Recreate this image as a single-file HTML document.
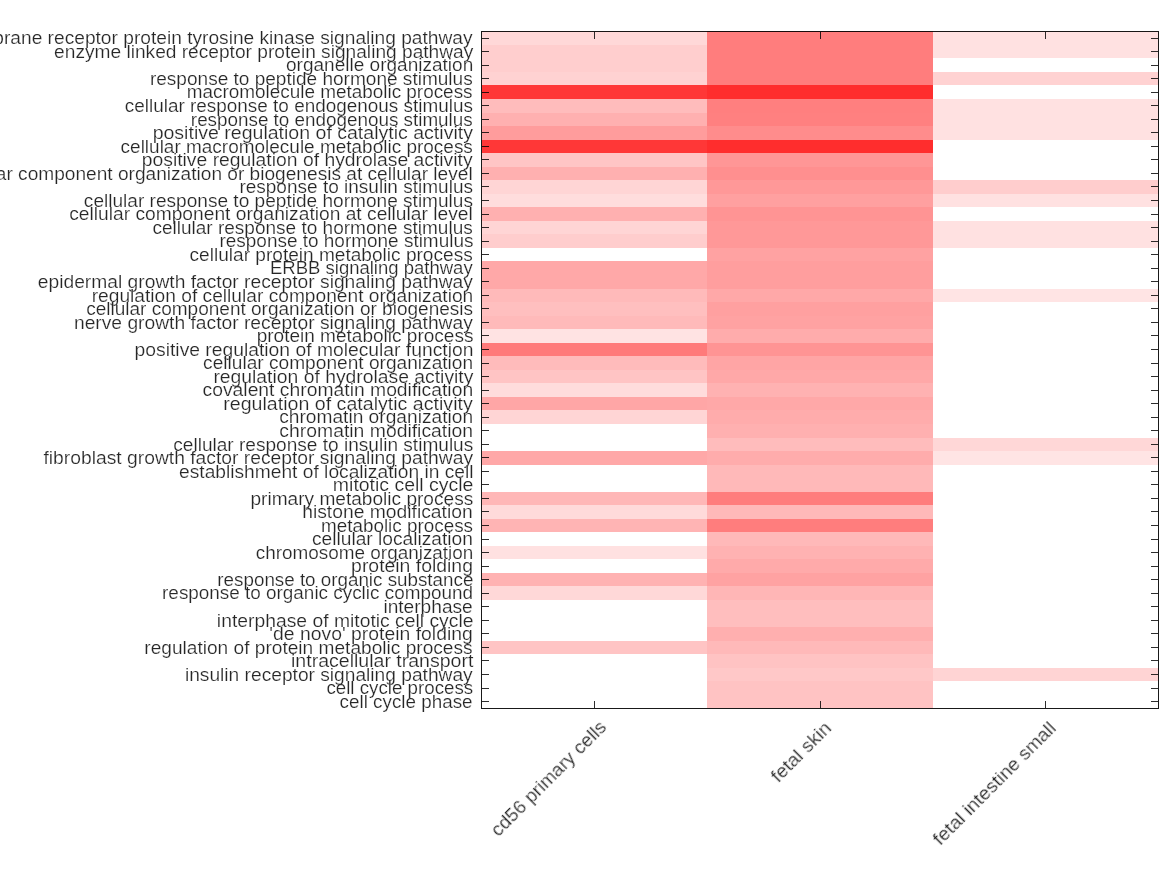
<!DOCTYPE html>
<html><head><meta charset="utf-8"><title>heatmap</title>
<style>
html,body{margin:0;padding:0;background:#fff;overflow:hidden;}
body{width:1167px;height:875px;position:relative;overflow:hidden;font-family:"Liberation Sans",sans-serif;color:#262626;}
.c{position:absolute;}
.yl{-webkit-text-stroke:0.2px #fff;will-change:transform;position:absolute;right:694px;white-space:nowrap;font-size:17.5px;line-height:20px;height:20px;transform-origin:100% 50%;}
.xl{-webkit-text-stroke:0.2px #fff;will-change:transform;position:absolute;white-space:nowrap;font-size:17.5px;line-height:20px;height:20px;transform-origin:100% 0;}
.t{position:absolute;background:rgba(0,0,0,.82);}
</style></head><body>

<div class="c" style="left:482px;top:31px;width:225px;height:14px;background:rgb(255,216,216)"></div>
<div class="c" style="left:482px;top:45px;width:225px;height:27px;background:rgb(255,206,206)"></div>
<div class="c" style="left:482px;top:72px;width:225px;height:13px;background:rgb(255,210,210)"></div>
<div class="c" style="left:482px;top:85px;width:225px;height:14px;background:rgb(255,55,55)"></div>
<div class="c" style="left:482px;top:99px;width:225px;height:14px;background:rgb(255,188,188)"></div>
<div class="c" style="left:482px;top:113px;width:225px;height:13px;background:rgb(255,176,176)"></div>
<div class="c" style="left:482px;top:126px;width:225px;height:14px;background:rgb(255,156,156)"></div>
<div class="c" style="left:482px;top:140px;width:225px;height:13px;background:rgb(255,55,55)"></div>
<div class="c" style="left:482px;top:153px;width:225px;height:14px;background:rgb(255,197,197)"></div>
<div class="c" style="left:482px;top:167px;width:225px;height:13px;background:rgb(255,176,176)"></div>
<div class="c" style="left:482px;top:180px;width:225px;height:14px;background:rgb(255,213,213)"></div>
<div class="c" style="left:482px;top:194px;width:225px;height:13px;background:rgb(255,221,221)"></div>
<div class="c" style="left:482px;top:207px;width:225px;height:14px;background:rgb(255,176,176)"></div>
<div class="c" style="left:482px;top:221px;width:225px;height:13px;background:rgb(255,213,213)"></div>
<div class="c" style="left:482px;top:234px;width:225px;height:14px;background:rgb(255,205,205)"></div>
<div class="c" style="left:482px;top:261px;width:225px;height:28px;background:rgb(255,168,168)"></div>
<div class="c" style="left:482px;top:289px;width:225px;height:13px;background:rgb(255,186,186)"></div>
<div class="c" style="left:482px;top:302px;width:225px;height:14px;background:rgb(255,191,191)"></div>
<div class="c" style="left:482px;top:316px;width:225px;height:13px;background:rgb(255,186,186)"></div>
<div class="c" style="left:482px;top:329px;width:225px;height:14px;background:rgb(255,227,227)"></div>
<div class="c" style="left:482px;top:343px;width:225px;height:13px;background:rgb(255,122,122)"></div>
<div class="c" style="left:482px;top:356px;width:225px;height:14px;background:rgb(255,187,187)"></div>
<div class="c" style="left:482px;top:370px;width:225px;height:13px;background:rgb(255,196,196)"></div>
<div class="c" style="left:482px;top:383px;width:225px;height:14px;background:rgb(255,220,220)"></div>
<div class="c" style="left:482px;top:397px;width:225px;height:13px;background:rgb(255,166,166)"></div>
<div class="c" style="left:482px;top:410px;width:225px;height:14px;background:rgb(255,213,213)"></div>
<div class="c" style="left:482px;top:451px;width:225px;height:14px;background:rgb(255,168,168)"></div>
<div class="c" style="left:482px;top:492px;width:225px;height:13px;background:rgb(255,183,183)"></div>
<div class="c" style="left:482px;top:505px;width:225px;height:14px;background:rgb(255,218,218)"></div>
<div class="c" style="left:482px;top:519px;width:225px;height:13px;background:rgb(255,180,180)"></div>
<div class="c" style="left:482px;top:546px;width:225px;height:13px;background:rgb(255,225,225)"></div>
<div class="c" style="left:482px;top:573px;width:225px;height:13px;background:rgb(255,178,178)"></div>
<div class="c" style="left:482px;top:586px;width:225px;height:14px;background:rgb(255,216,216)"></div>
<div class="c" style="left:482px;top:641px;width:225px;height:13px;background:rgb(255,196,196)"></div>
<div class="c" style="left:707px;top:31px;width:226px;height:54px;background:rgb(255,125,125)"></div>
<div class="c" style="left:707px;top:85px;width:226px;height:14px;background:rgb(255,45,45)"></div>
<div class="c" style="left:707px;top:99px;width:226px;height:14px;background:rgb(255,127,127)"></div>
<div class="c" style="left:707px;top:113px;width:226px;height:13px;background:rgb(255,128,128)"></div>
<div class="c" style="left:707px;top:126px;width:226px;height:14px;background:rgb(255,140,140)"></div>
<div class="c" style="left:707px;top:140px;width:226px;height:13px;background:rgb(255,45,45)"></div>
<div class="c" style="left:707px;top:153px;width:226px;height:14px;background:rgb(255,150,150)"></div>
<div class="c" style="left:707px;top:167px;width:226px;height:13px;background:rgb(255,143,143)"></div>
<div class="c" style="left:707px;top:180px;width:226px;height:14px;background:rgb(255,152,152)"></div>
<div class="c" style="left:707px;top:194px;width:226px;height:13px;background:rgb(255,160,160)"></div>
<div class="c" style="left:707px;top:207px;width:226px;height:14px;background:rgb(255,148,148)"></div>
<div class="c" style="left:707px;top:221px;width:226px;height:27px;background:rgb(255,152,152)"></div>
<div class="c" style="left:707px;top:248px;width:226px;height:13px;background:rgb(255,162,162)"></div>
<div class="c" style="left:707px;top:261px;width:226px;height:28px;background:rgb(255,158,158)"></div>
<div class="c" style="left:707px;top:289px;width:226px;height:13px;background:rgb(255,168,168)"></div>
<div class="c" style="left:707px;top:302px;width:226px;height:14px;background:rgb(255,160,160)"></div>
<div class="c" style="left:707px;top:316px;width:226px;height:13px;background:rgb(255,162,162)"></div>
<div class="c" style="left:707px;top:329px;width:226px;height:14px;background:rgb(255,172,172)"></div>
<div class="c" style="left:707px;top:343px;width:226px;height:13px;background:rgb(255,148,148)"></div>
<div class="c" style="left:707px;top:356px;width:226px;height:14px;background:rgb(255,165,165)"></div>
<div class="c" style="left:707px;top:370px;width:226px;height:13px;background:rgb(255,168,168)"></div>
<div class="c" style="left:707px;top:383px;width:226px;height:14px;background:rgb(255,178,178)"></div>
<div class="c" style="left:707px;top:397px;width:226px;height:13px;background:rgb(255,168,168)"></div>
<div class="c" style="left:707px;top:410px;width:226px;height:14px;background:rgb(255,172,172)"></div>
<div class="c" style="left:707px;top:424px;width:226px;height:14px;background:rgb(255,176,176)"></div>
<div class="c" style="left:707px;top:438px;width:226px;height:13px;background:rgb(255,188,188)"></div>
<div class="c" style="left:707px;top:451px;width:226px;height:14px;background:rgb(255,172,172)"></div>
<div class="c" style="left:707px;top:465px;width:226px;height:27px;background:rgb(255,185,185)"></div>
<div class="c" style="left:707px;top:492px;width:226px;height:13px;background:rgb(255,125,125)"></div>
<div class="c" style="left:707px;top:505px;width:226px;height:14px;background:rgb(255,185,185)"></div>
<div class="c" style="left:707px;top:519px;width:226px;height:13px;background:rgb(255,125,125)"></div>
<div class="c" style="left:707px;top:532px;width:226px;height:14px;background:rgb(255,185,185)"></div>
<div class="c" style="left:707px;top:546px;width:226px;height:13px;background:rgb(255,178,178)"></div>
<div class="c" style="left:707px;top:559px;width:226px;height:14px;background:rgb(255,170,170)"></div>
<div class="c" style="left:707px;top:573px;width:226px;height:13px;background:rgb(255,162,162)"></div>
<div class="c" style="left:707px;top:586px;width:226px;height:14px;background:rgb(255,182,182)"></div>
<div class="c" style="left:707px;top:600px;width:226px;height:27px;background:rgb(255,190,190)"></div>
<div class="c" style="left:707px;top:627px;width:226px;height:14px;background:rgb(255,175,175)"></div>
<div class="c" style="left:707px;top:641px;width:226px;height:13px;background:rgb(255,185,185)"></div>
<div class="c" style="left:707px;top:654px;width:226px;height:14px;background:rgb(255,195,195)"></div>
<div class="c" style="left:707px;top:668px;width:226px;height:13px;background:rgb(255,200,200)"></div>
<div class="c" style="left:707px;top:681px;width:226px;height:27px;background:rgb(255,195,195)"></div>
<div class="c" style="left:933px;top:31px;width:225px;height:27px;background:rgb(255,225,225)"></div>
<div class="c" style="left:933px;top:72px;width:225px;height:13px;background:rgb(255,210,210)"></div>
<div class="c" style="left:933px;top:99px;width:225px;height:41px;background:rgb(255,225,225)"></div>
<div class="c" style="left:933px;top:180px;width:225px;height:14px;background:rgb(255,205,205)"></div>
<div class="c" style="left:933px;top:194px;width:225px;height:13px;background:rgb(255,225,225)"></div>
<div class="c" style="left:933px;top:221px;width:225px;height:27px;background:rgb(255,225,225)"></div>
<div class="c" style="left:933px;top:289px;width:225px;height:13px;background:rgb(255,228,228)"></div>
<div class="c" style="left:933px;top:438px;width:225px;height:13px;background:rgb(255,215,215)"></div>
<div class="c" style="left:933px;top:451px;width:225px;height:14px;background:rgb(255,228,228)"></div>
<div class="c" style="left:933px;top:668px;width:225px;height:13px;background:rgb(255,212,212)"></div>
<div class="c" style="left:481px;top:31px;width:678px;height:678px;border:1px solid rgba(0,0,0,.9);box-sizing:border-box"></div>
<div class="t" style="left:482px;top:38px;width:7px;height:1px"></div>
<div class="t" style="left:1151px;top:38px;width:7px;height:1px"></div>
<div class="t" style="left:482px;top:51px;width:7px;height:1px"></div>
<div class="t" style="left:1151px;top:51px;width:7px;height:1px"></div>
<div class="t" style="left:482px;top:65px;width:7px;height:1px"></div>
<div class="t" style="left:1151px;top:65px;width:7px;height:1px"></div>
<div class="t" style="left:482px;top:78px;width:7px;height:1px"></div>
<div class="t" style="left:1151px;top:78px;width:7px;height:1px"></div>
<div class="t" style="left:482px;top:92px;width:7px;height:1px"></div>
<div class="t" style="left:1151px;top:92px;width:7px;height:1px"></div>
<div class="t" style="left:482px;top:105px;width:7px;height:1px"></div>
<div class="t" style="left:1151px;top:105px;width:7px;height:1px"></div>
<div class="t" style="left:482px;top:119px;width:7px;height:1px"></div>
<div class="t" style="left:1151px;top:119px;width:7px;height:1px"></div>
<div class="t" style="left:482px;top:132px;width:7px;height:1px"></div>
<div class="t" style="left:1151px;top:132px;width:7px;height:1px"></div>
<div class="t" style="left:482px;top:146px;width:7px;height:1px"></div>
<div class="t" style="left:1151px;top:146px;width:7px;height:1px"></div>
<div class="t" style="left:482px;top:159px;width:7px;height:1px"></div>
<div class="t" style="left:1151px;top:159px;width:7px;height:1px"></div>
<div class="t" style="left:482px;top:173px;width:7px;height:1px"></div>
<div class="t" style="left:1151px;top:173px;width:7px;height:1px"></div>
<div class="t" style="left:482px;top:186px;width:7px;height:1px"></div>
<div class="t" style="left:1151px;top:186px;width:7px;height:1px"></div>
<div class="t" style="left:482px;top:200px;width:7px;height:1px"></div>
<div class="t" style="left:1151px;top:200px;width:7px;height:1px"></div>
<div class="t" style="left:482px;top:214px;width:7px;height:1px"></div>
<div class="t" style="left:1151px;top:214px;width:7px;height:1px"></div>
<div class="t" style="left:482px;top:227px;width:7px;height:1px"></div>
<div class="t" style="left:1151px;top:227px;width:7px;height:1px"></div>
<div class="t" style="left:482px;top:241px;width:7px;height:1px"></div>
<div class="t" style="left:1151px;top:241px;width:7px;height:1px"></div>
<div class="t" style="left:482px;top:254px;width:7px;height:1px"></div>
<div class="t" style="left:1151px;top:254px;width:7px;height:1px"></div>
<div class="t" style="left:482px;top:268px;width:7px;height:1px"></div>
<div class="t" style="left:1151px;top:268px;width:7px;height:1px"></div>
<div class="t" style="left:482px;top:281px;width:7px;height:1px"></div>
<div class="t" style="left:1151px;top:281px;width:7px;height:1px"></div>
<div class="t" style="left:482px;top:295px;width:7px;height:1px"></div>
<div class="t" style="left:1151px;top:295px;width:7px;height:1px"></div>
<div class="t" style="left:482px;top:308px;width:7px;height:1px"></div>
<div class="t" style="left:1151px;top:308px;width:7px;height:1px"></div>
<div class="t" style="left:482px;top:322px;width:7px;height:1px"></div>
<div class="t" style="left:1151px;top:322px;width:7px;height:1px"></div>
<div class="t" style="left:482px;top:335px;width:7px;height:1px"></div>
<div class="t" style="left:1151px;top:335px;width:7px;height:1px"></div>
<div class="t" style="left:482px;top:349px;width:7px;height:1px"></div>
<div class="t" style="left:1151px;top:349px;width:7px;height:1px"></div>
<div class="t" style="left:482px;top:363px;width:7px;height:1px"></div>
<div class="t" style="left:1151px;top:363px;width:7px;height:1px"></div>
<div class="t" style="left:482px;top:376px;width:7px;height:1px"></div>
<div class="t" style="left:1151px;top:376px;width:7px;height:1px"></div>
<div class="t" style="left:482px;top:390px;width:7px;height:1px"></div>
<div class="t" style="left:1151px;top:390px;width:7px;height:1px"></div>
<div class="t" style="left:482px;top:403px;width:7px;height:1px"></div>
<div class="t" style="left:1151px;top:403px;width:7px;height:1px"></div>
<div class="t" style="left:482px;top:417px;width:7px;height:1px"></div>
<div class="t" style="left:1151px;top:417px;width:7px;height:1px"></div>
<div class="t" style="left:482px;top:430px;width:7px;height:1px"></div>
<div class="t" style="left:1151px;top:430px;width:7px;height:1px"></div>
<div class="t" style="left:482px;top:444px;width:7px;height:1px"></div>
<div class="t" style="left:1151px;top:444px;width:7px;height:1px"></div>
<div class="t" style="left:482px;top:457px;width:7px;height:1px"></div>
<div class="t" style="left:1151px;top:457px;width:7px;height:1px"></div>
<div class="t" style="left:482px;top:471px;width:7px;height:1px"></div>
<div class="t" style="left:1151px;top:471px;width:7px;height:1px"></div>
<div class="t" style="left:482px;top:484px;width:7px;height:1px"></div>
<div class="t" style="left:1151px;top:484px;width:7px;height:1px"></div>
<div class="t" style="left:482px;top:498px;width:7px;height:1px"></div>
<div class="t" style="left:1151px;top:498px;width:7px;height:1px"></div>
<div class="t" style="left:482px;top:511px;width:7px;height:1px"></div>
<div class="t" style="left:1151px;top:511px;width:7px;height:1px"></div>
<div class="t" style="left:482px;top:525px;width:7px;height:1px"></div>
<div class="t" style="left:1151px;top:525px;width:7px;height:1px"></div>
<div class="t" style="left:482px;top:539px;width:7px;height:1px"></div>
<div class="t" style="left:1151px;top:539px;width:7px;height:1px"></div>
<div class="t" style="left:482px;top:552px;width:7px;height:1px"></div>
<div class="t" style="left:1151px;top:552px;width:7px;height:1px"></div>
<div class="t" style="left:482px;top:566px;width:7px;height:1px"></div>
<div class="t" style="left:1151px;top:566px;width:7px;height:1px"></div>
<div class="t" style="left:482px;top:579px;width:7px;height:1px"></div>
<div class="t" style="left:1151px;top:579px;width:7px;height:1px"></div>
<div class="t" style="left:482px;top:593px;width:7px;height:1px"></div>
<div class="t" style="left:1151px;top:593px;width:7px;height:1px"></div>
<div class="t" style="left:482px;top:606px;width:7px;height:1px"></div>
<div class="t" style="left:1151px;top:606px;width:7px;height:1px"></div>
<div class="t" style="left:482px;top:620px;width:7px;height:1px"></div>
<div class="t" style="left:1151px;top:620px;width:7px;height:1px"></div>
<div class="t" style="left:482px;top:633px;width:7px;height:1px"></div>
<div class="t" style="left:1151px;top:633px;width:7px;height:1px"></div>
<div class="t" style="left:482px;top:647px;width:7px;height:1px"></div>
<div class="t" style="left:1151px;top:647px;width:7px;height:1px"></div>
<div class="t" style="left:482px;top:660px;width:7px;height:1px"></div>
<div class="t" style="left:1151px;top:660px;width:7px;height:1px"></div>
<div class="t" style="left:482px;top:674px;width:7px;height:1px"></div>
<div class="t" style="left:1151px;top:674px;width:7px;height:1px"></div>
<div class="t" style="left:482px;top:688px;width:7px;height:1px"></div>
<div class="t" style="left:1151px;top:688px;width:7px;height:1px"></div>
<div class="t" style="left:482px;top:701px;width:7px;height:1px"></div>
<div class="t" style="left:1151px;top:701px;width:7px;height:1px"></div>
<div class="t" style="left:594px;top:32px;width:1px;height:7px"></div>
<div class="t" style="left:594px;top:701px;width:1px;height:7px"></div>
<div class="t" style="left:820px;top:32px;width:1px;height:7px"></div>
<div class="t" style="left:820px;top:701px;width:1px;height:7px"></div>
<div class="t" style="left:1045px;top:32px;width:1px;height:7px"></div>
<div class="t" style="left:1045px;top:701px;width:1px;height:7px"></div>
<div class="yl" style="top:28.27px;transform:scaleX(1.0948)">transmembrane receptor protein tyrosine kinase signaling pathway</div>
<div class="yl" style="top:41.81px;transform:scaleX(1.0937)">enzyme linked receptor protein signaling pathway</div>
<div class="yl" style="top:55.35px;transform:scaleX(1.0870)">organelle organization</div>
<div class="yl" style="top:68.89px;transform:scaleX(1.0879)">response to peptide hormone stimulus</div>
<div class="yl" style="top:82.43px;transform:scaleX(1.0806)">macromolecule metabolic process</div>
<div class="yl" style="top:95.98px;transform:scaleX(1.0814)">cellular response to endogenous stimulus</div>
<div class="yl" style="top:109.52px;transform:scaleX(1.0770)">response to endogenous stimulus</div>
<div class="yl" style="top:123.06px;transform:scaleX(1.1163)">positive regulation of catalytic activity</div>
<div class="yl" style="top:136.60px;transform:scaleX(1.0843)">cellular macromolecule metabolic process</div>
<div class="yl" style="top:150.14px;transform:scaleX(1.1043)">positive regulation of hydrolase activity</div>
<div class="yl" style="top:163.69px;transform:scaleX(1.0918)">cellular component organization or biogenesis at cellular level</div>
<div class="yl" style="top:177.23px;transform:scaleX(1.0866)">response to insulin stimulus</div>
<div class="yl" style="top:190.77px;transform:scaleX(1.0900)">cellular response to peptide hormone stimulus</div>
<div class="yl" style="top:204.31px;transform:scaleX(1.0973)">cellular component organization at cellular level</div>
<div class="yl" style="top:217.85px;transform:scaleX(1.0868)">cellular response to hormone stimulus</div>
<div class="yl" style="top:231.40px;transform:scaleX(1.0832)">response to hormone stimulus</div>
<div class="yl" style="top:244.94px;transform:scaleX(1.0902)">cellular protein metabolic process</div>
<div class="yl" style="top:258.48px;transform:scaleX(1.0575)">ERBB signaling pathway</div>
<div class="yl" style="top:272.02px;transform:scaleX(1.0990)">epidermal growth factor receptor signaling pathway</div>
<div class="yl" style="top:285.56px;transform:scaleX(1.0955)">regulation of cellular component organization</div>
<div class="yl" style="top:299.11px;transform:scaleX(1.0867)">cellular component organization or biogenesis</div>
<div class="yl" style="top:312.65px;transform:scaleX(1.0994)">nerve growth factor receptor signaling pathway</div>
<div class="yl" style="top:326.19px;transform:scaleX(1.0870)">protein metabolic process</div>
<div class="yl" style="top:339.73px;transform:scaleX(1.1021)">positive regulation of molecular function</div>
<div class="yl" style="top:353.27px;transform:scaleX(1.0927)">cellular component organization</div>
<div class="yl" style="top:366.82px;transform:scaleX(1.1046)">regulation of hydrolase activity</div>
<div class="yl" style="top:380.36px;transform:scaleX(1.1039)">covalent chromatin modification</div>
<div class="yl" style="top:393.90px;transform:scaleX(1.1201)">regulation of catalytic activity</div>
<div class="yl" style="top:407.44px;transform:scaleX(1.0952)">chromatin organization</div>
<div class="yl" style="top:420.98px;transform:scaleX(1.1065)">chromatin modification</div>
<div class="yl" style="top:434.53px;transform:scaleX(1.0897)">cellular response to insulin stimulus</div>
<div class="yl" style="top:448.07px;transform:scaleX(1.1013)">fibroblast growth factor receptor signaling pathway</div>
<div class="yl" style="top:461.61px;transform:scaleX(1.0967)">establishment of localization in cell</div>
<div class="yl" style="top:475.15px;transform:scaleX(1.1119)">mitotic cell cycle</div>
<div class="yl" style="top:488.69px;transform:scaleX(1.0907)">primary metabolic process</div>
<div class="yl" style="top:502.24px;transform:scaleX(1.1024)">histone modification</div>
<div class="yl" style="top:515.78px;transform:scaleX(1.0784)">metabolic process</div>
<div class="yl" style="top:529.32px;transform:scaleX(1.0955)">cellular localization</div>
<div class="yl" style="top:542.86px;transform:scaleX(1.0806)">chromosome organization</div>
<div class="yl" style="top:556.40px;transform:scaleX(1.1082)">protein folding</div>
<div class="yl" style="top:569.95px;transform:scaleX(1.0740)">response to organic substance</div>
<div class="yl" style="top:583.49px;transform:scaleX(1.0796)">response to organic cyclic compound</div>
<div class="yl" style="top:597.03px;transform:scaleX(1.0928)">interphase</div>
<div class="yl" style="top:610.57px;transform:scaleX(1.1038)">interphase of mitotic cell cycle</div>
<div class="yl" style="top:624.11px;transform:scaleX(1.1069)">&#39;de novo&#39; protein folding</div>
<div class="yl" style="top:637.66px;transform:scaleX(1.0922)">regulation of protein metabolic process</div>
<div class="yl" style="top:651.20px;transform:scaleX(1.1163)">intracellular transport</div>
<div class="yl" style="top:664.74px;transform:scaleX(1.0955)">insulin receptor signaling pathway</div>
<div class="yl" style="top:678.28px;transform:scaleX(1.0697)">cell cycle process</div>
<div class="yl" style="top:691.82px;transform:scaleX(1.0759)">cell cycle phase</div>
<div class="xl" style="right:571.35px;top:717.25px;transform:rotate(-45deg) scaleX(1.0930)">cd56 primary cells</div>
<div class="xl" style="right:346.05px;top:717.55px;transform:rotate(-45deg) scaleX(1.1053)">fetal skin</div>
<div class="xl" style="right:121.20px;top:717.60px;transform:rotate(-45deg) scaleX(1.1097)">fetal intestine small</div>
</body></html>
